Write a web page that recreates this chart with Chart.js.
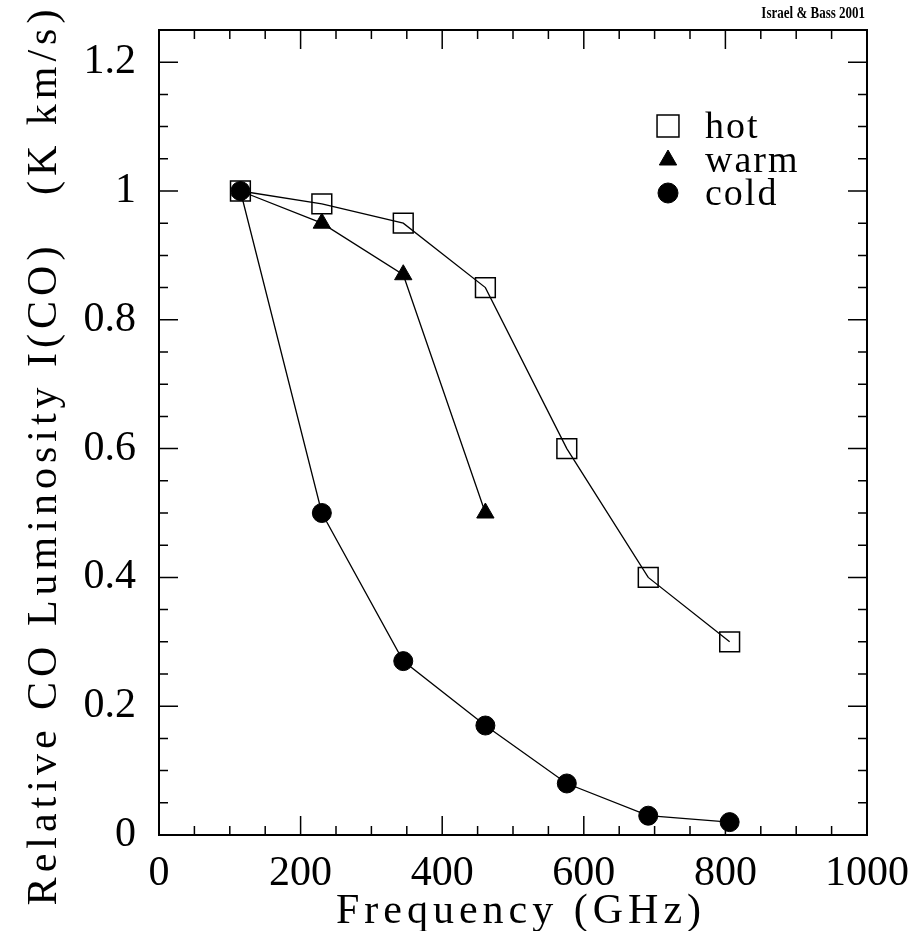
<!DOCTYPE html>
<html>
<head>
<meta charset="utf-8">
<script src="https://cdn.jsdelivr.net/npm/chart.js@4.4.0/dist/chart.umd.min.js"></script>
<style>
  html, body { margin: 0; padding: 0; background: #fff; }
  canvas { display: block; }
</style>
</head>
<body>
<canvas id="coChart" width="917" height="931"></canvas>
<script>
// CO rotational lines J=1-0 .. 7-6 (GHz)
const freqs = [115, 230, 345, 461, 576, 691, 806];
const hotValues = [1.0, 0.98, 0.95, 0.85, 0.60, 0.40, 0.30];
const warmValues = [1.0, 0.95, 0.87, 0.50];
const coldValues = [1.0, 0.50, 0.27, 0.17, 0.08, 0.03, 0.02];

const seriesNames = ['hot', 'warm', 'cold'];
const xTicks = [0, 200, 400, 600, 800, 1000];
const xTickLabels = ['0', '200', '400', '600', '800', '1000'];
const yTicks = [0, 0.2, 0.4, 0.6, 0.8, 1, 1.2];
const yTickLabels = ['0', '0.2', '0.4', '0.6', '0.8', '1', '1.2'];

const xTitle = 'Frequency (GHz)';
const yTitle = 'Relative CO Luminosity I(CO)   (K km/s)';
const credit = 'Israel & Bass 2001';

const FONT = "'Liberation Serif', 'Times New Roman', serif";

function toPoints(vals) {
  return vals.map((v, i) => ({ x: freqs[i], y: v }));
}

// fixed axis boxes, no label overhang padding
function fixBox(s, size) {
  if (s.isHorizontal()) s.height = size; else s.width = size;
  s.paddingTop = 0;
  s.paddingBottom = 0;
  s.paddingLeft = 0;
  s.paddingRight = 0;
}

// inward ticks on all four sides + frame
const framePlugin = {
  id: 'frame',
  beforeDatasetsDraw(chart) {
    const { ctx, chartArea: a, scales: { x, y } } = chart;
    ctx.save();
    ctx.strokeStyle = '#000';
    ctx.lineWidth = 1.5;
    ctx.beginPath();
    for (let i = 0; i <= 20; i++) {
      const px = x.getPixelForValue(i * 50);
      const len = i % 4 === 0 ? 19 : 9;
      ctx.moveTo(px, a.bottom); ctx.lineTo(px, a.bottom - len);
      ctx.moveTo(px, a.top); ctx.lineTo(px, a.top + len);
    }
    for (let i = 0; i <= 25; i++) {
      const py = y.getPixelForValue(i * 0.05);
      const len = i % 4 === 0 ? 19 : 9;
      ctx.moveTo(a.left, py); ctx.lineTo(a.left + len, py);
      ctx.moveTo(a.right, py); ctx.lineTo(a.right - len, py);
    }
    ctx.stroke();
    ctx.lineWidth = 2;
    ctx.strokeRect(a.left, a.top, a.right - a.left, a.bottom - a.top);
    ctx.restore();
  }
};

// axis titles, credit line and in-plot legend
const textPlugin = {
  id: 'texts',
  afterDraw(chart) {
    const { ctx, chartArea: a } = chart;
    ctx.save();
    ctx.fillStyle = '#000';
    ctx.textBaseline = 'middle';

    ctx.font = '42px ' + FONT;
    ctx.letterSpacing = '5px';
    ctx.textAlign = 'center';
    ctx.fillText(xTitle, (a.left + a.right) / 2 + 8, 912);

    ctx.save();
    ctx.translate(45, 455);
    ctx.rotate(-Math.PI / 2);
    ctx.fillText(yTitle, 0, 0);
    ctx.restore();

    ctx.save();
    ctx.letterSpacing = '0px';
    ctx.font = 'bold 13px ' + FONT;
    ctx.textAlign = 'right';
    ctx.translate(a.right - 2, 13);
    ctx.scale(1, 1.35);
    ctx.fillText(credit, 0, 0);
    ctx.restore();

    // legend
    ctx.font = '38px ' + FONT;
    ctx.letterSpacing = '2px';
    ctx.textAlign = 'left';
    const rows = [126, 160, 193];
    chart.data.datasets.forEach((ds, i) => {
      ctx.save();
      ctx.fillStyle = ds.pointBackgroundColor;
      ctx.strokeStyle = '#000';
      ctx.lineWidth = ds.pointBorderWidth;
      Chart.helpers.drawPoint(ctx, {
        pointStyle: ds.pointStyle,
        radius: ds.legendRadius,
        borderWidth: ds.pointBorderWidth,
        rotation: 0
      }, 668, rows[i]);
      ctx.restore();
      ctx.fillText(ds.label, 705, rows[i] + 2);
    });
    ctx.restore();
  }
};

const lineStyle = {
  showLine: true,
  borderColor: '#000',
  borderWidth: 1.3,
  tension: 0,
  pointBorderColor: '#000'
};

new Chart(document.getElementById('coChart'), {
  type: 'line',
  data: {
    datasets: [
      Object.assign({}, lineStyle, {
        label: seriesNames[0],
        data: toPoints(hotValues),
        pointStyle: 'rect',
        pointRadius: 14,
        legendRadius: 15.5,
        pointBackgroundColor: 'rgba(0,0,0,0)',
        pointBorderWidth: 1.5
      }),
      Object.assign({}, lineStyle, {
        label: seriesNames[1],
        data: toPoints(warmValues),
        pointStyle: 'triangle',
        pointRadius: 10,
        legendRadius: 10,
        pointBackgroundColor: '#000',
        pointBorderWidth: 1
      }),
      Object.assign({}, lineStyle, {
        label: seriesNames[2],
        data: toPoints(coldValues),
        pointStyle: 'circle',
        pointRadius: 9.5,
        legendRadius: 10,
        pointBackgroundColor: '#000',
        pointBorderWidth: 1
      })
    ]
  },
  options: {
    responsive: false,
    animation: false,
    devicePixelRatio: 1,
    layout: { autoPadding: false, padding: { top: 30, right: 50, left: 0, bottom: 0 } },
    plugins: {
      legend: { display: false },
      tooltip: { enabled: false }
    },
    scales: {
      x: {
        type: 'linear',
        min: 0,
        max: 1000,
        afterBuildTicks: s => { s.ticks = xTicks.map(v => ({ value: v })); },
        afterFit: s => fixBox(s, 96),
        grid: { display: false, drawTicks: false },
        border: { display: false },
        ticks: {
          autoSkip: false,
          maxRotation: 0,
          padding: 14,
          color: '#000',
          font: { family: FONT, size: 42 },
          callback: (v, i) => xTickLabels[i]
        }
      },
      y: {
        type: 'linear',
        min: 0,
        max: 1.25,
        afterBuildTicks: s => { s.ticks = yTicks.map(v => ({ value: v })); },
        afterFit: s => fixBox(s, 159),
        grid: { display: false, drawTicks: false },
        border: { display: false },
        ticks: {
          autoSkip: false,
          padding: 23,
          color: '#000',
          font: { family: FONT, size: 42 },
          callback: (v, i) => yTickLabels[i]
        }
      }
    }
  },
  plugins: [framePlugin, textPlugin]
});
</script>
</body>
</html>
